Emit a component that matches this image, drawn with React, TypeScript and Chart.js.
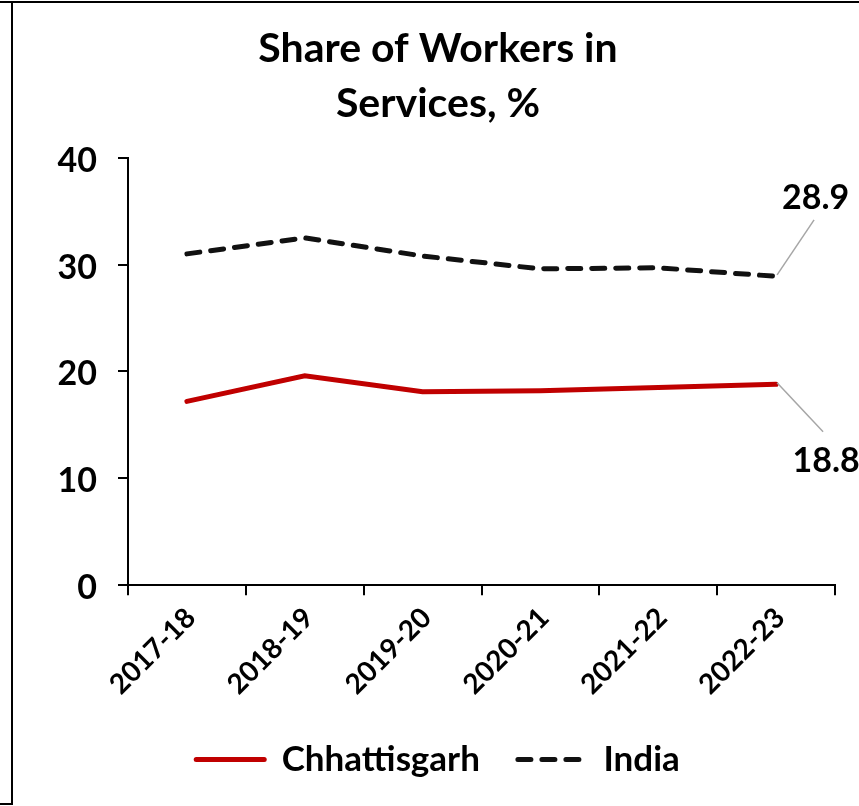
import React, { useEffect, useRef } from 'react';
import { Chart, registerables } from 'chart.js';

Chart.register(...registerables);

const categories = ['2017-18', '2018-19', '2019-20', '2020-21', '2021-22', '2022-23'];
const chhattisgarh = [17.2, 19.6, 18.1, 18.2, 18.5, 18.8];
const india = [31.0, 32.5, 30.8, 29.6, 29.7, 28.9];
const yTicks = [0, 10, 20, 30, 40];
const titleLines = ['Share of Workers in', 'Services, %'];
const seriesNames = ['Chhattisgarh', 'India'];

const FONT = 'Lato, "Open Sans", sans-serif';

const endLabelPlugin = {
  id: 'endLabels',
  afterDatasetsDraw(chart: any, _args: any, opts: any) {
    const ctx = chart.ctx;
    chart.data.datasets.forEach((ds: any, i: number) => {
      const meta = chart.getDatasetMeta(i);
      const last = meta.data.length - 1;
      const pt = meta.data[last];
      const cfg = opts.items[i];
      if (!pt || !cfg) return;
      const v = ds.data[last];
      ctx.save();
      ctx.strokeStyle = opts.lineColor;
      ctx.lineWidth = opts.lineWidth;
      ctx.beginPath();
      ctx.moveTo(pt.x + cfg.from[0], pt.y + cfg.from[1]);
      ctx.lineTo(pt.x + cfg.to[0], pt.y + cfg.to[1]);
      ctx.stroke();
      ctx.fillStyle = opts.color;
      ctx.font = opts.font;
      ctx.textAlign = 'center';
      ctx.textBaseline = 'middle';
      ctx.fillText(Number(v).toFixed(1), pt.x + cfg.text[0], pt.y + cfg.text[1]);
      ctx.restore();
    });
  },
};

export default function App() {
  const ref = useRef<HTMLCanvasElement | null>(null);

  useEffect(() => {
    if (!ref.current) return;
    const chart = new Chart(ref.current, {
      type: 'line',
      data: {
        labels: categories,
        datasets: [
          {
            label: seriesNames[0],
            data: chhattisgarh,
            borderColor: '#c00000',
            backgroundColor: '#c00000',
            borderWidth: 5,
            borderCapStyle: 'round',
            pointRadius: 0,
            tension: 0,
          },
          {
            label: seriesNames[1],
            data: india,
            borderColor: '#111111',
            backgroundColor: '#111111',
            borderWidth: 5,
            borderDash: [13, 11],
            borderCapStyle: 'round',
            pointRadius: 0,
            tension: 0,
          },
        ],
      },
      plugins: [endLabelPlugin as any],
      options: {
        animation: false,
        responsive: false,
        devicePixelRatio: 1,
        layout: { padding: { left: 41, right: 24, top: 0, bottom: 19 } },
        plugins: {
          title: {
            display: true,
            text: titleLines,
            color: '#000',
            font: { family: FONT, size: 41, weight: 'bold', lineHeight: 55 / 41 },
            padding: { top: 21, bottom: 26.7 },
          },
          legend: {
            position: 'bottom',
            labels: {
              color: '#000',
              font: { family: FONT, size: 35, weight: 'bold' },
              usePointStyle: true,
              pointStyle: 'line',
              pointStyleWidth: 68,
              padding: 38,
              generateLabels: (chart: any) =>
                chart.data.datasets.map((ds: any, i: number) => ({
                  text: ds.label,
                  fillStyle: ds.borderColor,
                  strokeStyle: ds.borderColor,
                  lineWidth: ds.borderWidth,
                  lineDash: ds.borderDash || [],
                  lineCap: 'round',
                  pointStyle: 'line',
                  fontColor: '#000',
                  hidden: false,
                  datasetIndex: i,
                })),
            },
          },
          tooltip: { enabled: false },
          endLabels: {
            lineColor: '#a6a6a6',
            lineWidth: 1.5,
            color: '#000',
            font: `bold 34px ${FONT}`,
            items: [
              { from: [1, -1.5], to: [47, 47.5], text: [50, 77] },
              { from: [1, -1.5], to: [38, -56.5], text: [39.5, -78.5] },
            ],
          },
        } as any,
        scales: {
          x: {
            type: 'category',
            offset: true,
            grid: {
              offset: true,
              drawOnChartArea: false,
              drawTicks: true,
              tickLength: 10,
              color: '#000',
              lineWidth: 2,
            },
            border: { display: true, color: '#000', width: 2 },
            ticks: {
              color: '#000',
              font: { family: FONT, size: 28, weight: 'bold' },
              maxRotation: 45,
              minRotation: 45,
              padding: 6,
              labelOffset: 4,
              autoSkip: false,
            },
            afterFit: (s: any) => {
              s.height = 118.8;
            },
          },
          y: {
            min: 0,
            max: 40,
            grid: {
              drawOnChartArea: false,
              drawTicks: true,
              tickLength: 10,
              color: '#000',
              lineWidth: 2,
            },
            border: { display: true, color: '#000', width: 2 },
            ticks: {
              color: '#000',
              font: { family: FONT, size: 34, weight: 'bold' },
              padding: 21,
              labelOffset: 3,
            },
            afterBuildTicks: (s: any) => {
              s.ticks = yTicks.map((v) => ({ value: v }));
            },
            afterFit: (s: any) => {
              s.width = 87;
            },
          },
        },
      } as any,
    });
    return () => chart.destroy();
  }, []);

  return (
    <div style={{ position: 'fixed', left: 0, top: 0, width: 859, height: 806, background: '#fff' }}>
      <div style={{ position: 'absolute', left: 0, top: 1, width: 859, height: 2, background: '#000' }} />
      <div style={{ position: 'absolute', left: 11, top: 1, width: 2, height: 804, background: '#000' }} />
      <div style={{ position: 'absolute', left: 0, top: 803, width: 13, height: 2, background: '#000' }} />
      <canvas
        ref={ref}
        width={859}
        height={806}
        style={{ position: 'absolute', left: 0, top: 0, width: 859, height: 806 }}
      />
    </div>
  );
}
